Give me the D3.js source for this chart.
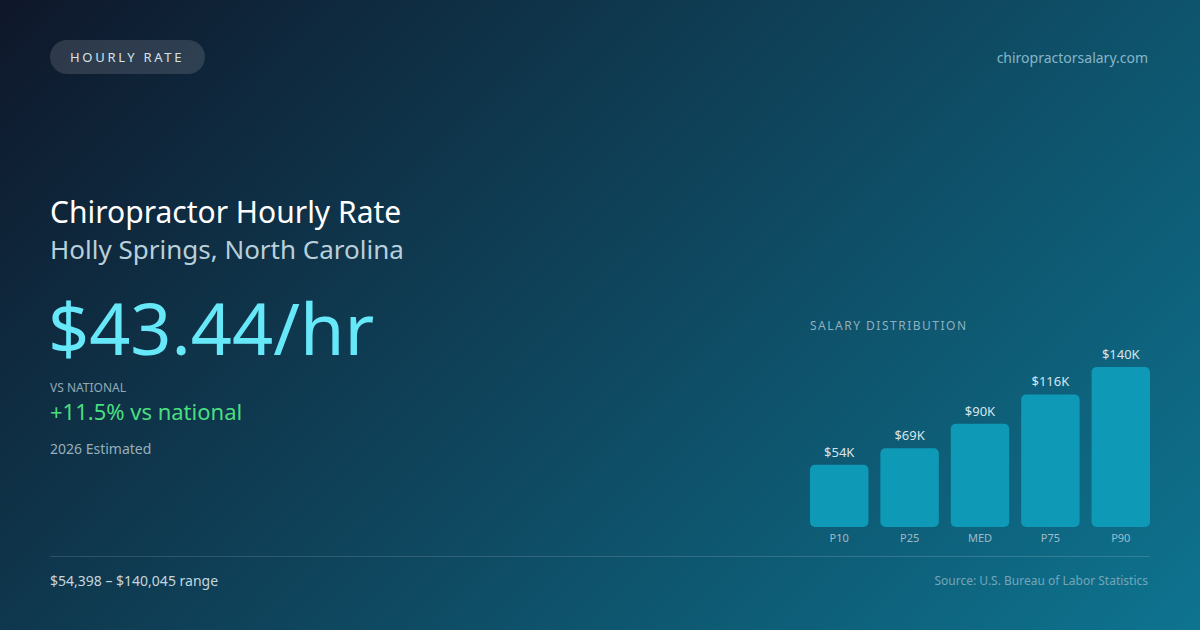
<!DOCTYPE html>
<html>
<head>
<meta charset="utf-8">
<script src="https://cdn.jsdelivr.net/npm/d3@7"></script>
<style>
  html, body { margin: 0; padding: 0; background: #0f1c2b; }
  svg { display: block; font-family: "Noto Sans", "Open Sans", sans-serif; }
</style>
</head>
<body>
<div id="card"></div>
<script>
// salary percentiles (annual, USD)
const percentiles = ["P10", "P25", "MED", "P75", "P90"];
const salaries = [54398, 69000, 90355, 116000, 140045];
const salaryLabels = ["$54K", "$69K", "$90K", "$116K", "$140K"];

const hourlyRate = "$43.44/hr";
const vsNational = "+11.5% vs national";
const rangeText = "$54,398 – $140,045 range";

const width = 1200, height = 630;

const svg = d3.select("#card")
  .append("svg")
  .attr("width", width)
  .attr("height", height);

// background gradient
const defs = svg.append("defs");
const grad = defs.append("linearGradient")
  .attr("id", "bg")
  .attr("gradientUnits", "userSpaceOnUse")
  .attr("x1", 0).attr("y1", 0)
  .attr("x2", 915).attr("y2", 915)
  .attr("gradientTransform", "translate(142,-142)");
grad.append("stop").attr("offset", "0%").attr("stop-color", "#0f172a");
grad.append("stop").attr("offset", "100%").attr("stop-color", "#0e7490");

svg.append("rect")
  .attr("width", width)
  .attr("height", height)
  .attr("fill", "url(#bg)");

// pill badge
svg.append("rect")
  .attr("x", 50).attr("y", 40)
  .attr("width", 155).attr("height", 34)
  .attr("rx", 17)
  .attr("fill", "rgba(255,255,255,0.13)");
svg.append("text")
  .attr("x", 70).attr("y", 62)
  .attr("font-size", 13)
  .attr("letter-spacing", "2.7px")
  .attr("fill", "#d6e2e9")
  .text("HOURLY RATE");

svg.append("text")
  .attr("x", 1148).attr("y", 63)
  .attr("text-anchor", "end")
  .attr("font-size", 14)
  .attr("fill", "#86b6c8")
  .text("chiropractorsalary.com");

// headline block
svg.append("text")
  .attr("x", 50).attr("y", 223)
  .attr("font-size", 30)
  .attr("fill", "#ffffff")
  .text("Chiropractor Hourly Rate");
svg.append("text")
  .attr("x", 50).attr("y", 259)
  .attr("font-size", 26)
  .attr("fill", "#b9cfda")
  .text("Holly Springs, North Carolina");

svg.append("text")
  .attr("x", 48).attr("y", 355)
  .attr("font-size", 72)
  .attr("fill", "#67e8f9")
  .text(hourlyRate);

svg.append("text")
  .attr("x", 50).attr("y", 392)
  .attr("font-size", 12)
  .attr("fill", "#93a9b6")
  .text("VS NATIONAL");
svg.append("text")
  .attr("x", 50).attr("y", 420)
  .attr("font-size", 22)
  .attr("fill", "#4ade80")
  .text(vsNational);
svg.append("text")
  .attr("x", 50).attr("y", 454)
  .attr("font-size", 14)
  .attr("fill", "#98aebb")
  .text("2026 Estimated");

// salary distribution chart
svg.append("text")
  .attr("x", 810).attr("y", 330)
  .attr("font-size", 12)
  .attr("letter-spacing", "1.5px")
  .attr("fill", "#8eb0bf")
  .text("SALARY DISTRIBUTION");

const x = d3.scaleBand()
  .domain(percentiles)
  .range([810, 1150])
  .paddingInner(0.17)
  .paddingOuter(0);

const y = d3.scaleLinear()
  .domain([0, d3.max(salaries)])
  .range([527, 367]);

const data = percentiles.map((p, i) => ({ p: p, v: salaries[i], label: salaryLabels[i] }));

const chart = svg.append("g");

chart.selectAll("rect.bar")
  .data(data)
  .enter()
  .append("rect")
  .attr("class", "bar")
  .attr("x", d => x(d.p))
  .attr("y", d => y(d.v))
  .attr("width", x.bandwidth())
  .attr("height", d => y(0) - y(d.v))
  .attr("rx", 5)
  .attr("fill", "#0e9ab7");

chart.selectAll("text.val")
  .data(data)
  .enter()
  .append("text")
  .attr("class", "val")
  .attr("x", d => x(d.p) + x.bandwidth() / 2)
  .attr("y", d => y(d.v) - 8)
  .attr("text-anchor", "middle")
  .attr("font-size", 13)
  .attr("fill", "#d6e5ec")
  .text(d => d.label);

// x axis labels only
const xAxis = chart.append("g")
  .attr("transform", `translate(0,${y(0)})`)
  .call(d3.axisBottom(x).tickSize(0).tickPadding(7));
xAxis.select(".domain").remove();
xAxis.selectAll("text")
  .attr("font-size", 11)
  .attr("font-family", "'Noto Sans', sans-serif")
  .attr("fill", "#9dbccb");

// footer
svg.append("line")
  .attr("x1", 50).attr("x2", 1150)
  .attr("y1", 556.5).attr("y2", 556.5)
  .attr("stroke", "rgba(255,255,255,0.14)")
  .attr("stroke-width", 1);

svg.append("text")
  .attr("x", 50).attr("y", 586)
  .attr("font-size", 14)
  .attr("fill", "#c6d5de")
  .text(rangeText);
svg.append("text")
  .attr("x", 1148).attr("y", 585)
  .attr("text-anchor", "end")
  .attr("font-size", 12)
  .attr("fill", "#74a6ba")
  .text("Source: U.S. Bureau of Labor Statistics");
</script>
</body>
</html>
